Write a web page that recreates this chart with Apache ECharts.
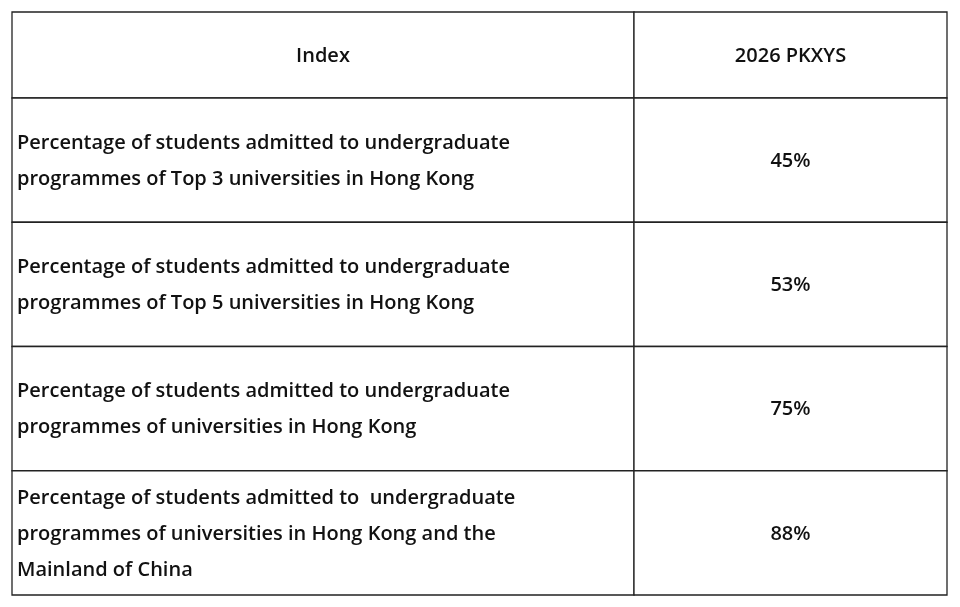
<!DOCTYPE html>
<html>
<head>
<meta charset="utf-8">
<script src="https://cdn.jsdelivr.net/npm/echarts@6/dist/echarts.min.js"></script>
<style>
  html, body { margin: 0; padding: 0; background: #fff; }
  #main { width: 960px; height: 607px; }
</style>
</head>
<body>
<div id="main"></div>
<script>
// 表格数据
var headers = ['Index', '2026 PKXYS'];
var indexes = [
  'Percentage of students admitted to undergraduate\nprogrammes of Top 3 universities in Hong Kong',
  'Percentage of students admitted to undergraduate\nprogrammes of Top 5 universities in Hong Kong',
  'Percentage of students admitted to undergraduate\nprogrammes of universities in Hong Kong',
  'Percentage of students admitted to  undergraduate\nprogrammes of universities in Hong Kong and the\nMainland of China'
];
var values = ['45%', '53%', '75%', '88%'];

// 列宽、行高（像素比例）
var colWidths = [622, 313];
var headH = 86;
var rowH = 124.25;

var rows = [headers].concat(indexes.map(function (t, i) { return [t, values[i]]; }));
var heights = [headH].concat(indexes.map(function () { return rowH; }));
var total = heights.reduce(function (a, b) { return a + b; }, 0);
var colTotal = colWidths[0] + colWidths[1];

var cells = [];
var yTop = 0;
rows.forEach(function (r, ri) {
  var x0 = 0;
  r.forEach(function (txt, ci) {
    cells.push([x0, yTop, x0 + colWidths[ci], yTop + heights[ri], ri, ci, txt]);
    x0 += colWidths[ci];
  });
  yTop += heights[ri];
});

var chart = echarts.init(document.getElementById('main'));
chart.setOption({
  animation: false,
  grid: { left: 12, right: 13, top: 12, bottom: 12 },
  xAxis: { type: 'value', min: 0, max: colTotal, show: false },
  yAxis: { type: 'value', min: 0, max: total, inverse: true, show: false },
  series: [{
    type: 'custom',
    data: cells,
    renderItem: function (params, api) {
      var p0 = api.coord([api.value(0), api.value(1)]);
      var p1 = api.coord([api.value(2), api.value(3)]);
      var ri = api.value(4), ci = api.value(5);
      var txt = cells[params.dataIndex][6];
      var left = (ci === 0 && ri > 0);
      return {
        type: 'group',
        children: [{
          type: 'rect',
          shape: { x: p0[0], y: p0[1], width: p1[0] - p0[0], height: p1[1] - p0[1] },
          style: { fill: '#fff', stroke: '#222', lineWidth: 1.3 }
        }, {
          type: 'text',
          x: left ? p0[0] + 5 : (p0[0] + p1[0]) / 2,
          y: (p0[1] + p1[1]) / 2 + 1,
          style: {
            text: txt,
            fill: '#111',
            font: '600 20px "Open Sans", "Noto Sans", sans-serif',
            lineHeight: 36,
            align: left ? 'left' : 'center',
            verticalAlign: 'middle'
          }
        }]
      };
    }
  }]
});
</script>
</body>
</html>
